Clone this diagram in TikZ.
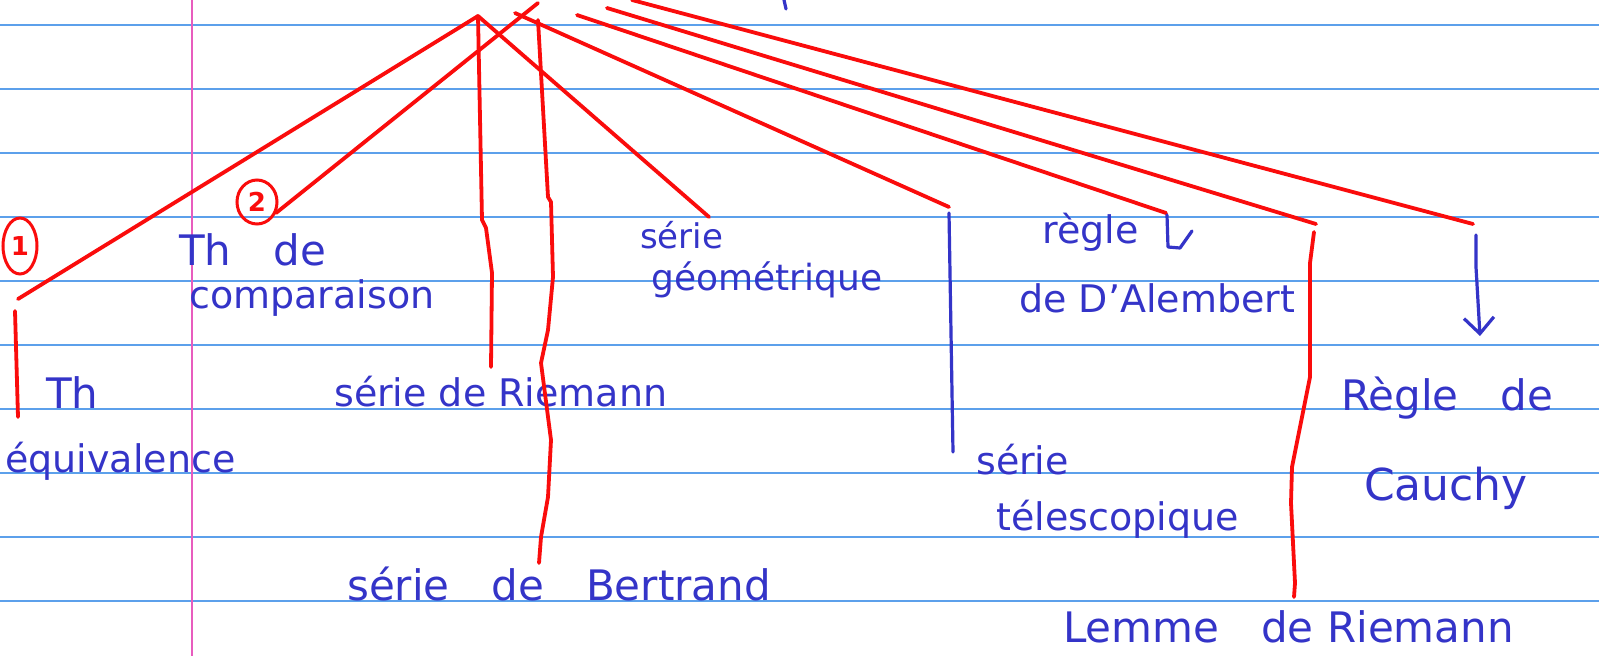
\documentclass[tikz,border=0pt]{standalone}
\usepackage{fontspec}
\setmainfont{DejaVu Sans}
\usepackage{tikz}
\usetikzlibrary{arrows.meta, shapes.geometric}
\definecolor{ink}{RGB}{52,52,200}
\definecolor{pen}{RGB}{250,12,12}
\definecolor{ruling}{RGB}{92,160,235}
\definecolor{margin}{RGB}{232,92,190}

\begin{document}
\begin{tikzpicture}[
    x=1pt, y=-1pt,
    hand/.style={text=ink, font=\fontsize{38}{40}\selectfont, inner sep=0pt, anchor=base west},
    redline/.style={draw=pen, line width=3.8pt, line cap=round, line join=round},
    blueline/.style={draw=ink, line width=3.2pt, line cap=round, line join=round},
    ringed/.style={ellipse, draw=pen, line width=3pt, inner sep=0pt, text=pen, font=\fontsize{26}{26}\selectfont\bfseries},
    >={Straight Barb[length=16pt, width=30pt]}]
\fill[white] (0,0) rectangle (1599,656);
\useasboundingbox (0,0) rectangle (1599,656);
\foreach \y in {25,89,...,601}
    \draw[ruling, line width=1.8pt] (0,\y) -- (1599,\y);
\draw[margin, line width=1.6pt] (192,0) -- (192,656);

\coordinate (apexA) at (478,16);
\coordinate (apexB) at (538,3);
\coordinate (apexC) at (515,13);
\coordinate (apexD) at (577,15);
\coordinate (apexE) at (607,8);
\coordinate (apexF) at (632,0);
\coordinate (endEquiv) at (18,299);
\coordinate (endComp) at (276,213);
\coordinate (endGeo) at (709,217);
\coordinate (endTel) at (949,207);
\coordinate (endAlem) at (1166,213);
\coordinate (endLem) at (1316,224);
\coordinate (endCau) at (1473,224);

\node[ringed, minimum width=34pt, minimum height=56pt] (one) at (20,246) {1};
\node[ringed, minimum width=40pt, minimum height=44pt] (two) at (257,202) {2};

\node[hand, font=\fontsize{42}{44}\selectfont] (thEq) at (46,408) {Th};
\node[hand] (equiv) at (5,472) {équivalence};
\node[hand, font=\fontsize{42}{44}\selectfont] (thComp) at (179,265) {Th\quad de};
\node[hand] (comp) at (189,308) {comparaison};
\node[hand] (riem) at (334,406) {série de Riemann};
\node[hand, font=\fontsize{34}{36}\selectfont] (geoA) at (640,248) {série};
\node[hand, font=\fontsize{36}{38}\selectfont] (geoB) at (651,290) {géométrique};
\node[hand, font=\fontsize{42}{44}\selectfont] (bert) at (347,600) {série\quad de\quad Bertrand};
\node[hand] (regle) at (1042,243) {règle};
\node[hand] (alem) at (1019,312) {de D'Alembert};
\node[hand] (telA) at (976,474) {série};
\node[hand] (telB) at (996,530) {télescopique};
\node[hand, font=\fontsize{42}{44}\selectfont] (cauA) at (1341,410) {Règle\quad de};
\node[hand, font=\fontsize{44}{46}\selectfont] (cauB) at (1364,500) {Cauchy};
\node[hand, font=\fontsize{42}{44}\selectfont] (lem) at (1063,642) {Lemme\quad de Riemann};

\draw[redline] (apexA) -- (endEquiv);
\draw[redline] (15,311) -- (18,417);
\draw[redline] (apexB) -- (endComp);
\draw[redline] (apexA) -- (482,220) -- (486,228) -- (492,273) -- (491,367);
\draw[redline] (apexB) ++(0,17) -- (548,197) -- (551,202) -- (553,277) -- (548,330)
    -- (541,363) -- (551,440) -- (548,497) -- (541,537) -- (539,563);
\draw[redline] (apexA) -- (endGeo);
\draw[redline] (apexC) -- (endTel);
\draw[redline] (apexD) -- (endAlem);
\draw[redline] (apexE) -- (endLem);
\draw[redline] (apexF) -- (endCau);
\draw[redline] (1314,232) -- (1310,263) -- (1310,377) -- (1292,467) -- (1291,503)
    -- (1295,583) -- (1294,597);

\draw[blueline] (endTel) ++(0,6) -- (953,452);
\draw[blueline] (endAlem) ++(1,2) -- (1168,247) -- (1180,248) -- (1192,231);
\draw[blueline, ->] (endCau) ++(3,11) -- (1476,267) -- (1480,336);
\draw[blueline] (784,0) -- (786,9);
\end{tikzpicture}
\end{document}
